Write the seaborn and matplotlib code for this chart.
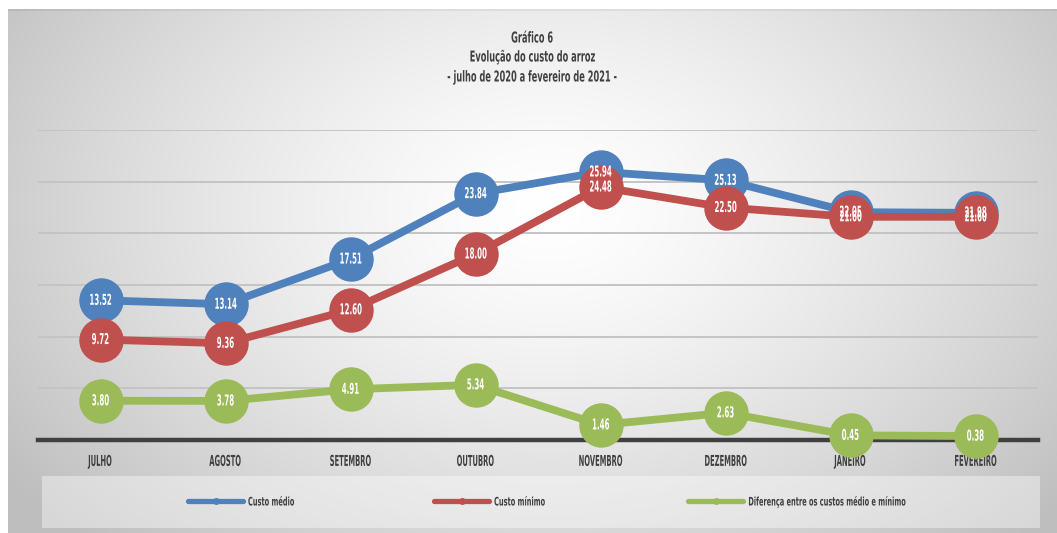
import numpy as np
import pandas as pd
import matplotlib
matplotlib.use("Agg")
import matplotlib.pyplot as plt
from matplotlib.lines import Line2D
from matplotlib.patches import Rectangle
from matplotlib.patheffects import AbstractPathEffect
from matplotlib.transforms import Affine2D
from matplotlib.path import Path
import seaborn as sns

months = ["JULHO", "AGOSTO", "SETEMBRO", "OUTUBRO", "NOVEMBRO", "DEZEMBRO", "JANEIRO", "FEVEREIRO"]
custo_medio = [13.52, 13.14, 17.51, 23.84, 25.94, 25.13, 22.05, 21.98]
custo_minimo = [9.72, 9.36, 12.60, 18.00, 24.48, 22.50, 21.60, 21.60]
diferenca = [3.80, 3.78, 4.91, 5.34, 1.46, 2.63, 0.45, 0.38]
series_names = ["Custo médio", "Custo mínimo", "Diferença entre os custos médio e mínimo"]
title_lines = ["Gráfico 6", "Evolução do custo do arroz", "- julho de 2020 a fevereiro de 2021 -"]

colors = ["#4f81bd", "#c0504d", "#9bbb59"]


class Squash(AbstractPathEffect):
    """Draw text horizontally condensed (imitates a very narrow typeface)."""

    def __init__(self, sx=0.5, anchor="center"):
        super().__init__()
        self.sx = sx
        self.anchor = anchor

    def draw_path(self, renderer, gc, tpath, affine, rgbFace=None):
        v = tpath.vertices
        codes = tpath.codes
        if codes is not None:
            v = v[codes != Path.CLOSEPOLY]
        if self.anchor == "center" and len(v):
            cx = 0.5 * (v[:, 0].min() + v[:, 0].max())
        else:
            cx = 0.0
        t = Affine2D().translate(-cx, 0).scale(self.sx, 1.0).translate(cx, 0) + affine
        renderer.draw_path(gc, tpath, t, rgbFace)


sns.set_theme(style="white")
plt.rcParams["font.family"] = ["DejaVu Sans"]

FS = 10.8
W, H = 1057, 533
fig = plt.figure(figsize=(W / 100, H / 100), dpi=100, facecolor="white")

# background gradient panel
bg = fig.add_axes([8 / W, 0, 1 - 8 / W, (H - 9) / H], zorder=-10)
yy, xx = np.mgrid[0:524, 0:1049]
cx, cy = 540, 200
d = np.sqrt(((xx - cx) / 600.0) ** 2 + ((yy - cy) / 420.0) ** 2)
val = 1.0 - 0.22 * np.clip(d, 0, 1.1) ** 1.4
val[0:2, :] = val[0:2, :] - 0.05
img = np.dstack([val, val, val])
bg.imshow(img, aspect="auto", interpolation="bilinear", vmin=0, vmax=1)
bg.set_axis_off()

# legend box
fig.patches.append(Rectangle((42 / W, (H - 528) / H), (1040 - 42) / W, 52 / H,
                             transform=fig.transFigure, facecolor="white", alpha=0.4,
                             edgecolor="none", zorder=-5))

ax = fig.add_axes([38 / W, (H - 440) / H, 1000 / W, 310 / H])
ax.set_facecolor("none")

x = np.arange(len(months))
df = pd.DataFrame({"x": np.tile(x, 3),
                   "valor": custo_medio + custo_minimo + diferenca,
                   "serie": np.repeat(series_names, len(months))})

for i, name in enumerate(series_names):
    sub = df[df["serie"] == name]
    sns.lineplot(data=sub, x="x", y="valor", ax=ax, color=colors[i], linewidth=5.6,
                 marker="o", markersize=32, markeredgewidth=0, sort=False,
                 legend=False, zorder=3 + i, clip_on=False)

for vals in (custo_medio, custo_minimo, diferenca):
    for xi, v in zip(x, vals):
        ax.text(xi, v, f"{v:.2f}", ha="center", va="center", color="white",
                fontsize=FS, fontweight="bold", zorder=10,
                path_effects=[Squash(0.47)])

ax.set_xlim(-0.5, len(months) - 0.5)
ax.set_ylim(0, 30)
ax.set_yticks([5, 10, 15, 20, 25, 30])
ax.set_yticklabels([])
ax.tick_params(axis="y", length=0)
ax.grid(axis="y", color="#c4c4c4", linewidth=1.4, zorder=0)
ax.grid(axis="x", visible=False)
ax.set_axisbelow(True)
for s in ["top", "right", "left"]:
    ax.spines[s].set_visible(False)
ax.spines["bottom"].set_color("#404040")
ax.spines["bottom"].set_linewidth(3.2)
ax.spines["bottom"].set_zorder(2)
ax.set_xticks(x)
ax.set_xticklabels(months, fontsize=FS, fontweight="bold", color="#404040")
for lab in ax.get_xticklabels():
    lab.set_path_effects([Squash(0.45)])
ax.tick_params(axis="x", length=0, pad=10)
ax.set_xlabel("")
ax.set_ylabel("")

for j, (t, ypx) in enumerate(zip(title_lines, [38, 57, 77])):
    fig.text(532 / W, 1 - ypx / H, t, ha="center", va="center", fontsize=FS,
             fontweight="bold", color="#404040", path_effects=[Squash(0.55)])

LFS = 8.5
handles = [Line2D([0], [0], color=c, linewidth=3.8, marker="o", markersize=5,
                  markeredgewidth=0, solid_capstyle="round") for c in colors]
leg = fig.legend(handles, series_names, loc="center left",
                 bbox_to_anchor=(188 / W, 1 - 502 / H), borderpad=0, borderaxespad=0,
                 ncol=3, frameon=False, fontsize=LFS, handlelength=4.66, handletextpad=0.42,
                 columnspacing=8.8)
for t in leg.get_texts():
    t.set_color("#404040")
    t.set_fontweight("bold")
    t.set_path_effects([Squash(0.56, anchor="left")])

fig.savefig("out.png", dpi=100, facecolor="white")
